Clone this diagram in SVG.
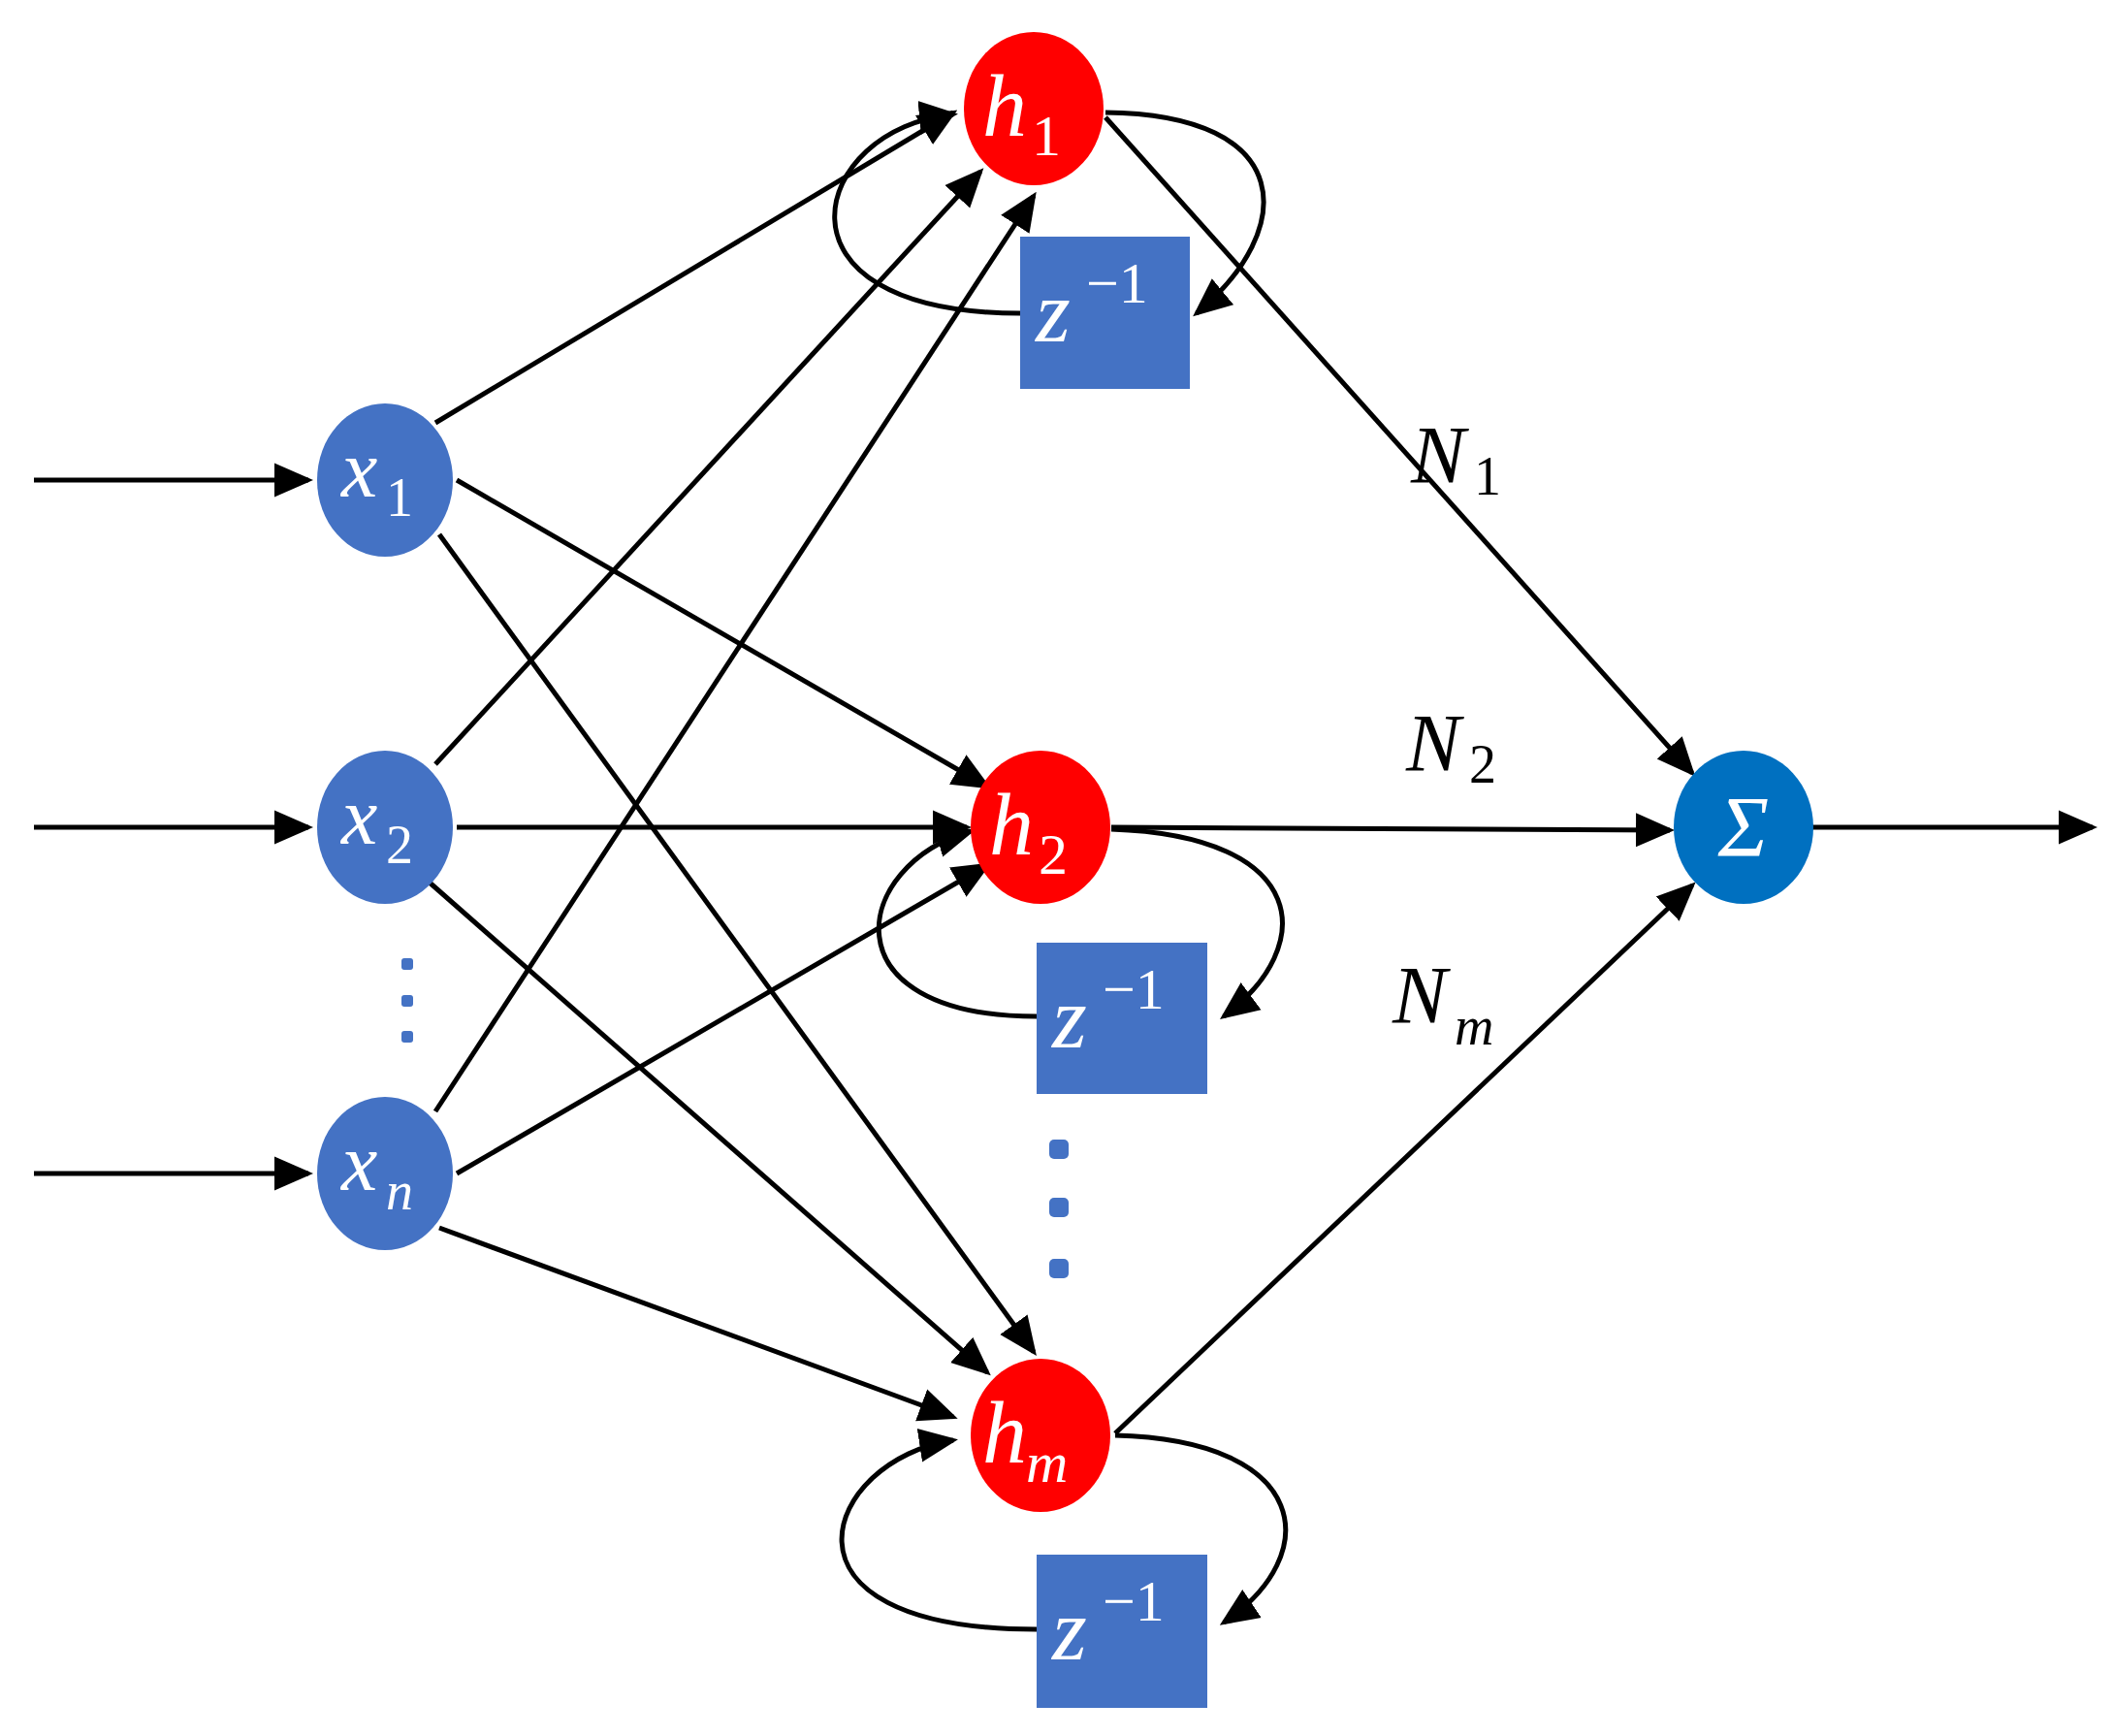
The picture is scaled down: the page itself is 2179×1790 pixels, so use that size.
<svg xmlns="http://www.w3.org/2000/svg" width="2179" height="1790" viewBox="0 0 2179 1790">
<style>
.e{stroke:#000;stroke-width:5;fill:none;marker-end:url(#a)}
.m{font-family:"Liberation Serif",serif;font-style:italic}
.s{font-family:"Liberation Serif",serif}
.w{fill:#fff}
.bl{fill:#4472c4}
.rd{fill:#ff0000}
</style>
<defs><marker id="a" markerWidth="8" markerHeight="8" refX="7" refY="4" orient="auto" markerUnits="strokeWidth"><path d="M0,0.5 L8,4 L0,7.5 Z" fill="#000"/></marker></defs>
<rect width="2179" height="1790" fill="#fff"/>
<g id="connectors">
<path class="e" d="M35 495H318"/><path class="e" d="M35 853H318"/><path class="e" d="M35 1210H318"/>
<path class="e" d="M1868 853H2158"/>
<path class="e" d="M449 436L983 116"/>
<path class="e" d="M471 495L1018 811"/>
<path class="e" d="M453 551L1066 1394"/>
<path class="e" d="M449 788L1011 177"/>
<path class="e" d="M471 853L997 853"/>
<path class="e" d="M443 910L1018 1415"/>
<path class="e" d="M449 1146L1066 202"/>
<path class="e" d="M471 1210L1018 892"/>
<path class="e" d="M453 1266L983 1461"/>
<path class="e" d="M1140 121L1745 797"/>
<path class="e" d="M1146 853L1722 856"/>
<path class="e" d="M1150 1478L1745 913"/>
<path class="e" d="M1140 116C1338 118 1338 237 1234 323"/>
<path class="e" d="M1052 323C781 323 836 132 983 118"/>
<path class="e" d="M1146 855C1352 862 1359 976 1262 1048"/>
<path class="e" d="M1069 1048C850 1048 878 892 1001 857"/>
<path class="e" d="M1150 1480C1352 1485 1366 1603 1262 1673"/>
<path class="e" d="M1069 1680C781 1680 850 1505 983 1485"/>
</g>
<g id="x1"><ellipse cx="397" cy="495" rx="70" ry="79" class="bl"/><text x="352" y="512" font-size="84" class="m w">x</text><text x="398" y="532" font-size="56" class="s w">1</text></g>
<g id="x2"><ellipse cx="397" cy="853" rx="70" ry="79" class="bl"/><text x="352" y="870" font-size="84" class="m w">x</text><text x="398" y="890" font-size="56" class="s w">2</text></g>
<g id="xn"><ellipse cx="397" cy="1210" rx="70" ry="79" class="bl"/><text x="352" y="1227" font-size="84" class="m w">x</text><text x="398" y="1247" font-size="56" class="m w">n</text></g>
<g id="ldots" class="bl"><rect x="414" y="988" width="12" height="12" rx="3"/><rect x="414" y="1026" width="12" height="12" rx="3"/><rect x="414" y="1063" width="12" height="12" rx="3"/></g>
<g id="h1"><ellipse cx="1066" cy="112" rx="72" ry="79" class="rd"/><text x="1013" y="140" font-size="92" class="m w">h</text><text x="1064" y="160" font-size="60" class="s w">1</text></g>
<g id="h2"><ellipse cx="1073" cy="853" rx="72" ry="79" class="rd"/><text x="1020" y="881" font-size="92" class="m w">h</text><text x="1071" y="901" font-size="60" class="s w">2</text></g>
<g id="hm"><ellipse cx="1073" cy="1480" rx="72" ry="79" class="rd"/><text x="1013" y="1508" font-size="92" class="m w">h</text><text x="1058" y="1528" font-size="60" class="m w">m</text></g>
<g id="sigma"><ellipse cx="1798" cy="853" rx="72" ry="79" fill="#0070c0"/><text x="1798" y="882" font-size="88" text-anchor="middle" class="m w">Σ</text></g>
<g id="z1"><rect x="1052" y="244" width="175" height="157" class="bl"/><text x="1068" y="352" font-size="92" class="m w">z</text><text x="1120" y="312" font-size="60" class="s w">−1</text></g>
<g id="z2"><rect x="1069" y="972" width="176" height="156" class="bl"/><text x="1085" y="1080" font-size="92" class="m w">z</text><text x="1137" y="1040" font-size="60" class="s w">−1</text></g>
<g id="z3"><rect x="1069" y="1603" width="176" height="158" class="bl"/><text x="1085" y="1711" font-size="92" class="m w">z</text><text x="1137" y="1671" font-size="60" class="s w">−1</text></g>
<g id="mdots" class="bl"><rect x="1082" y="1175" width="20" height="20" rx="5"/><rect x="1082" y="1235" width="20" height="20" rx="5"/><rect x="1082" y="1298" width="20" height="20" rx="5"/></g>
<g id="labels">
<text x="1455" y="498" font-size="84" class="m">N</text><text x="1520" y="510" font-size="56" class="s">1</text>
<text x="1450" y="795" font-size="84" class="m">N</text><text x="1515" y="807" font-size="56" class="s">2</text>
<text x="1436" y="1055" font-size="84" class="m">N</text><text x="1500" y="1077" font-size="56" class="m">m</text>
</g>
</svg>
